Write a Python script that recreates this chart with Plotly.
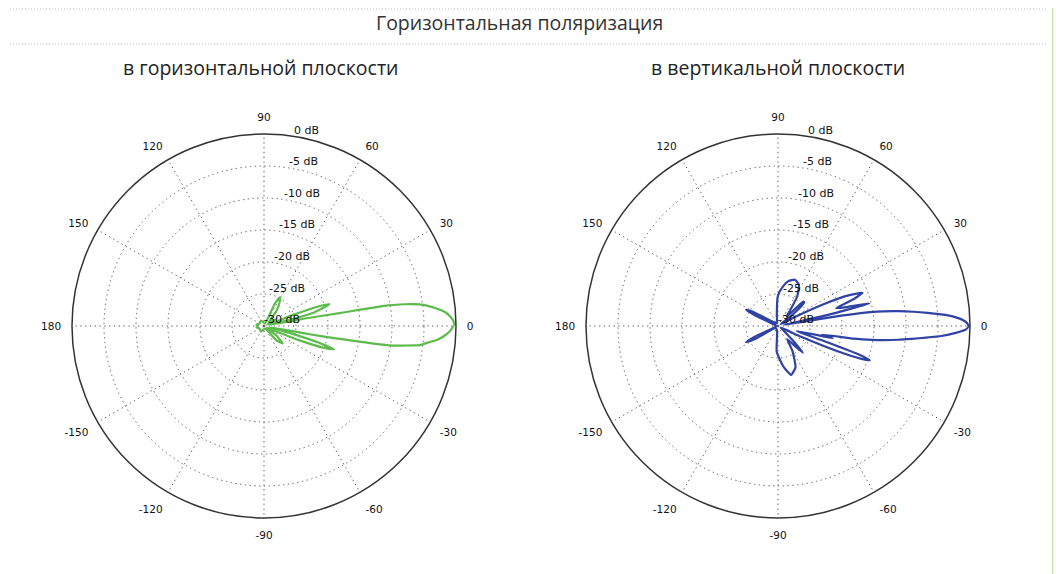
import plotly.graph_objects as go

# ---------------- data ----------------
# horizontal plane pattern (green): angle in degrees, level in dB
h_theta = [0, 1.5, 3, 4.5, 5.7, 7, 7.9, 8.8, 9.4, 9.7, 10.3, 11.5, 13, 15, 18.5, 19.8, 20.8, 22, 30, 40, 50, 57, 61, 64, 68,
           90, 120, 150, 170, 180, 190, 210, 240, 270, 300, 311, 317, 322, 330, 336, 338, 340, 341.5,
           343, 345, 348.5, 349.7, 350.3, 351.2, 352.1, 353, 354.3, 355.5, 357, 358.5, 360]
h_db = [-0.2, -0.4, -0.9, -1.7, -2.8, -4.2, -5.5, -7.8, -10.3, -18, -23, -29, -27, -22, -19.2, -21, -25, -29.5, -28, -29, -27, -25.5, -24.9, -26, -29.5,
        -29.5, -29, -29.2, -28.8, -29, -28.8, -29.2, -29, -29.5, -29.5, -27, -26, -27.5, -29.5, -28, -24, -20, -18.5,
        -21, -26, -29, -23, -18, -10.3, -7.8, -5.5, -4.2, -2.8, -1.7, -0.9, -0.4, -0.2]

# vertical plane pattern (blue)
v_theta = [0, 1.2, 2.5, 3.8, 5, 6, 7, 8.5, 9.3, 9.8, 11, 12.5, 13.9, 15.5, 17, 19.5, 21.5, 23.5, 25.5, 28, 32, 38, 42, 44, 47,
           52, 57, 63, 70, 77, 84, 90, 97, 105, 120, 140, 150, 153, 155, 160, 180, 200, 205, 207, 210, 215, 240,
           262, 267, 272, 278, 285, 293, 300, 305, 310, 313, 316, 322, 330, 335, 337, 338.5, 339.5, 340.5, 342,
           345, 347.4, 349, 350.5, 351.6, 353.5, 354.5, 355.5, 356.5, 357.8, 359, 360]
v_db = [-0.2, -0.6, -1.8, -3.8, -6.5, -8.7, -11, -15, -20, -26, -29, -22, -15.3, -19, -20.5, -17.5, -15.8, -18, -21.9, -27, -29.5, -27, -24.5, -24.5, -28,
        -27, -24.5, -22.8, -22.3, -22.8, -24, -25.2, -28.5, -29.5, -29.5, -29, -26, -24.4, -26, -29.5, -29.7, -29.5, -26, -24.4, -26, -29.5, -29.5,
        -29, -26, -25, -23.5, -22.1, -23, -25.5, -27.5, -26, -24.3, -27, -29, -29.5, -26, -20, -16, -14.7, -16.5, -23,
        -27, -21.2, -23, -18, -15.2, -11, -9, -6.8, -4.4, -2.2, -0.6, -0.2]

ring_levels = [0, -5, -10, -15, -20, -25, -30]
ring_labels = ["0 dB", "-5 dB", "-10 dB", "-15 dB", "-20 dB", "-25 dB", "-30 dB"]
angle_ticks = [0, 30, 60, 90, 120, 150, 180, 210, 240, 270, 300, 330]
angle_labels = ["0", "30", "60", "90", "120", "150", "180", "-150", "-120", "-90", "-60", "-30"]

title_text = "Горизонтальная поляризация"
subtitle_left = "в горизонтальной плоскости"
subtitle_right = "в вертикальной плоскости"

GREEN = "#5dbb4b"
BLUE = "#3043a5"

# the page body has an 8px margin; the figure is sized to fit the window
W, H, OFF = 1053, 566, 8


def px(sx):
    return (sx - OFF) / W


def py(sy):
    return 1 - (sy - OFF) / H


fig = go.Figure()

for sub, th, r, col in [("polar", h_theta, h_db, GREEN), ("polar2", v_theta, v_db, BLUE)]:
    fig.add_trace(go.Scatterpolar(theta=th, r=r, mode="lines", subplot=sub,
                                  line=dict(color=col, width=2.2, shape="spline", smoothing=0.5),
                                  showlegend=False, hoverinfo="skip"))
    fig.add_trace(go.Scatterpolar(theta=[81] * len(ring_levels), r=ring_levels, mode="text", subplot=sub,
                                  text=ring_labels, textposition="top right",
                                  textfont=dict(family="DejaVu Sans", size=11, color="#111"),
                                  showlegend=False, hoverinfo="skip"))

DOT = "1.3px,3.5px"


def polar_layout(x0, x1):
    return dict(
        domain=dict(x=[px(x0), px(x1)], y=[py(518), py(134)]),
        bgcolor="white",
        radialaxis=dict(range=[-30, 0], tickvals=[-25, -20, -15, -10, -5, 0], showticklabels=False,
                        showline=False, ticks="", gridcolor="#5a5a5a", griddash=DOT, gridwidth=1.3),
        angularaxis=dict(rotation=0, direction="counterclockwise", tickmode="array",
                         tickvals=angle_ticks, ticktext=angle_labels,
                         ticks="outside", ticklen=8, tickcolor="rgba(0,0,0,0)",
                         tickfont=dict(family="DejaVu Sans", size=10.5, color="#111"),
                         showline=True, linecolor="#333", linewidth=1.5,
                         gridcolor="#5a5a5a", griddash=DOT, gridwidth=1.3),
    )


fig.update_layout(
    width=W, height=H,
    margin=dict(l=0, r=0, t=0, b=0),
    paper_bgcolor="white",
    polar=polar_layout(72, 456),
    polar2=polar_layout(586, 970),
    shapes=[
        dict(type="line", xref="paper", yref="paper", x0=px(10), x1=px(1046), y0=py(9), y1=py(9),
             line=dict(color="#bbb", width=1, dash="1px,2px")),
        dict(type="line", xref="paper", yref="paper", x0=px(10), x1=px(1046), y0=py(44), y1=py(44),
             line=dict(color="#bbb", width=1, dash="1px,2px")),
        dict(type="rect", xref="paper", yref="paper", x0=px(1052), x1=1, y0=0, y1=1,
             fillcolor="#c3e3a0", line=dict(width=0)),
    ],
    annotations=[
        dict(text=title_text, x=px(519), y=py(23), xref="paper", yref="paper", showarrow=False,
             font=dict(family="Open Sans", size=19.5, color="#333"), xanchor="center", yanchor="middle"),
        dict(text=subtitle_left, x=px(260), y=py(68), xref="paper", yref="paper", showarrow=False,
             font=dict(family="Open Sans", size=19.5, color="#222"), xanchor="center", yanchor="middle"),
        dict(text=subtitle_right, x=px(778), y=py(68), xref="paper", yref="paper", showarrow=False,
             font=dict(family="Open Sans", size=19.5, color="#222"), xanchor="center", yanchor="middle"),
    ],
)

fig.write_html("out.html")
